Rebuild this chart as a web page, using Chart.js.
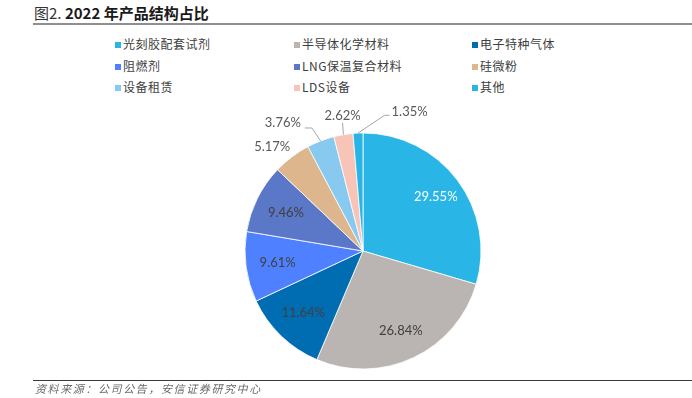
<!DOCTYPE html>
<html><head><meta charset="utf-8">
<script src="https://cdn.jsdelivr.net/npm/chart.js@4.4.0/dist/chart.umd.min.js"></script>
<style>
html,body{margin:0;padding:0;background:#fff;}
body{width:692px;height:398px;position:relative;overflow:hidden;font-family:"Noto Sans CJK SC",sans-serif;}
#title{position:absolute;left:34px;top:3px;font-size:15px;line-height:20px;color:#1a1a1a;white-space:nowrap;}
#title .n{font-weight:normal;color:#333;}
#title b{font-weight:bold;}
#tline{position:absolute;left:33px;top:23px;width:659px;height:2px;background:#8f8f8f;}
.li{position:absolute;font-size:12px;color:#404040;white-space:nowrap;letter-spacing:0.5px;line-height:14px;}
.sw{display:inline-block;width:6px;height:6px;margin-right:2px;vertical-align:1px;}
#fline{position:absolute;left:33px;top:380px;width:659px;height:1px;background:#3a3a3a;}
#foot{position:absolute;left:35px;top:381px;font-size:11px;line-height:14px;color:#6a6a6a;font-style:italic;letter-spacing:1.6px;white-space:nowrap;}
#c{position:absolute;left:0;top:0;}
</style>
</head>
<body>
<div id="title"><span class="n">图2.</span> <b>2022 年产品结构占比</b></div>
<div id="tline"></div>
<div id="legend"></div>
<canvas id="c" width="692" height="398"></canvas>
<div id="fline"></div>
<div id="foot">资料来源：公司公告，安信证券研究中心</div>
<script>
// ---- data ----
const categories = ['光刻胶配套试剂','半导体化学材料','电子特种气体','阻燃剂','LNG保温复合材料','硅微粉','设备租赁','LDS设备','其他'];
const shares = [29.55, 26.84, 11.64, 9.61, 9.46, 5.17, 3.76, 2.62, 1.35];
const shareLabels = ['29.55%','26.84%','11.64%','9.61%','9.46%','5.17%','3.76%','2.62%','1.35%'];
// ---- style ----
const colors = ['#29B6E6','#BAB4B2','#006CB1','#4F80FF','#5A77C8','#DDB68D','#88C9EF','#F9C4B8','#28B5E5'];

// legend (HTML, 3 columns)
const legCols = [115, 294, 472], legRows = [44, 66, 87];
const legend = document.getElementById('legend');
categories.forEach((name, i) => {
  const d = document.createElement('div');
  d.className = 'li';
  d.style.left = legCols[i % 3] + 'px';
  d.style.top = (legRows[Math.floor(i / 3)] - 7) + 'px';
  const s = document.createElement('span');
  s.className = 'sw';
  s.style.background = colors[i];
  d.appendChild(s);
  d.appendChild(document.createTextNode(name));
  legend.appendChild(d);
});

// label placement styling
const labelCfg = {
  inside: [true, true, true, true, true, false, false, false, false],
  insideR: [0.77, 0.75, 0.73, 0.73, 0.73],
  textColor: ['#ffffff','#404040','#404040','#404040','#404040','#595959','#595959','#595959','#595959'],
  outR: [0,0,0,0,0,1.17,1.28,1.16,1.24],
  outShiftDeg: [0,0,0,0,0,-4,-11,1,21],
  leader: [null,null,null,null,null,null,'side','below','side']
};

const pieLabels = {
  id: 'pieLabels',
  afterDatasetsDraw(chart) {
    const ctx = chart.ctx;
    const meta = chart.getDatasetMeta(0);
    ctx.save();
    ctx.font = '13px Lato, "Open Sans", sans-serif';
    ctx.textAlign = 'center';
    ctx.textBaseline = 'middle';
    meta.data.forEach((arc, i) => {
      const p = arc.getProps(['x','y','startAngle','endAngle','outerRadius'], true);
      const mid = (p.startAngle + p.endAngle) / 2;
      const txt = shareLabels[i];
      let lx, ly;
      if (labelCfg.inside[i]) {
        lx = p.x + Math.cos(mid) * p.outerRadius * labelCfg.insideR[i];
        ly = p.y + Math.sin(mid) * p.outerRadius * labelCfg.insideR[i];
      } else {
        const a = mid + labelCfg.outShiftDeg[i] * Math.PI / 180;
        lx = p.x + Math.cos(a) * p.outerRadius * labelCfg.outR[i];
        ly = p.y + Math.sin(a) * p.outerRadius * labelCfg.outR[i];
        const mode = labelCfg.leader[i];
        if (mode) {
          const sx = p.x + Math.cos(mid) * p.outerRadius;
          const sy = p.y + Math.sin(mid) * p.outerRadius;
          const w = ctx.measureText(txt).width;
          ctx.strokeStyle = '#a6a6a6';
          ctx.lineWidth = 1;
          ctx.beginPath();
          ctx.moveTo(sx, sy);
          if (mode === 'below') {
            ctx.lineTo(lx, ly + 7);
          } else {
            const left = lx < sx;
            const ex = left ? lx + w / 2 + 4 : lx - w / 2 - 2;
            const ey = ly + (left ? 5 : 3);
            const bx = left ? ex + 7 : ex - 5;
            ctx.lineTo(bx, ey);
            ctx.lineTo(ex, ey);
          }
          ctx.stroke();
        }
      }
      ctx.fillStyle = labelCfg.textColor[i];
      ctx.fillText(txt, lx, ly);
    });
    ctx.restore();
  }
};

new Chart(document.getElementById('c'), {
  type: 'pie',
  data: {
    labels: categories,
    datasets: [{
      data: shares,
      backgroundColor: colors,
      borderColor: '#ffffff',
      borderWidth: 0.8,
      hoverOffset: 0,
      offset: 0
    }]
  },
  options: {
    responsive: false,
    devicePixelRatio: 1,
    animation: false,
    events: [],
    radius: 118,
    layout: { padding: { left: 245, right: 211, top: 133, bottom: 29 } },
    plugins: { legend: { display: false }, tooltip: { enabled: false } }
  },
  plugins: [pieLabels]
});
</script>
</body></html>
